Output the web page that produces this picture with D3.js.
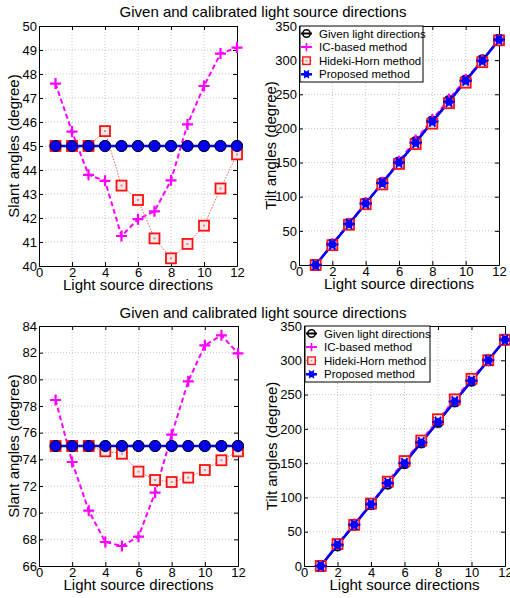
<!DOCTYPE html>
<html>
<head>
<meta charset="utf-8">
<script src="https://d3js.org/d3.v7.min.js"></script>
<style>
  body { margin: 0; background: #fff; }
</style>
</head>
<body>
<svg id="chart" width="510" height="598"></svg>
<script>
// light source index 1..12
const directions = d3.range(1, 13);

// slant angles, first setup (45 deg)
const slantGiven1 = [45, 45, 45, 45, 45, 45, 45, 45, 45, 45, 45, 45];
const slantIC1 = [47.6, 45.6, 43.8, 43.55, 41.25, 41.95, 42.28, 43.57, 45.9, 47.5, 48.85, 49.1];
const slantHH1 = [45, 45, 45, 45.62, 43.35, 42.75, 41.15, 40.32, 40.92, 41.68, 43.23, 44.65];
const slantProp1 = [45, 45, 45, 45, 45, 45, 45, 45, 45, 45, 45, 45];

// slant angles, second setup (75 deg)
const slantGiven2 = [75, 75, 75, 75, 75, 75, 75, 75, 75, 75, 75, 75];
const slantIC2 = [78.45, 73.8, 70.15, 67.8, 67.5, 68.2, 71.5, 75.85, 79.85, 82.55, 83.3, 81.95];
const slantHH2 = [75, 75, 75, 74.6, 74.42, 73.08, 72.45, 72.3, 72.63, 73.2, 73.93, 74.6];
const slantProp2 = [75, 75, 75, 75, 75, 75, 75, 75, 75, 75, 75, 75];

// tilt angles
const tiltGiven = [0, 30, 60, 90, 120, 150, 180, 210, 240, 270, 300, 330];
const tiltIC1 = [0, 31, 61, 91, 121, 152, 183, 213, 243, 272, 300, 330];
const tiltHH1 = [0, 29, 59, 89, 118, 148, 177, 207, 237, 267, 297, 329];
const tiltProp1 = [0, 30, 60, 90, 120, 150, 179, 210, 239, 270, 299, 330];
const tiltIC2 = [0, 32, 61, 91, 123, 153, 183, 213, 243, 273, 300, 330];
const tiltHH2 = [0, 32, 60, 91, 123, 153, 183, 214, 243, 273, 300, 330];
const tiltProp2 = [0, 31, 60, 90, 121, 150, 180, 210, 240, 270, 300, 330];

const xTicks = [0, 2, 4, 6, 8, 10, 12];
const slantTicks1 = [40, 41, 42, 43, 44, 45, 46, 47, 48, 49, 50];
const slantTicks2 = [66, 68, 70, 72, 74, 76, 78, 80, 82, 84];
const tiltTicks = [0, 50, 100, 150, 200, 250, 300, 350];

const legendNames = ["Given light directions", "IC-based method", "Hideki-Horn method", "Proposed method"];
const titleText = "Given and calibrated light source directions";

const FONT = "'Liberation Sans', Arial, Helvetica";
const svg = d3.select("#chart").style("font-family", FONT);

const styles = {
  given: { color: "#000", width: 2, dash: null },
  ic: { color: "#ff00ff", width: 2, dash: "5,3" },
  hh: { color: "#e06060", width: 1, dash: "1.5,1.5" },
  prop: { color: "#0000ff", width: 2.5, dash: null }
};

// marker shapes drawn around (0,0)
const drawMarker = (g, key, star) => {
  if (key === "given") {
    g.append("circle").attr("r", 5).attr("fill", "none").attr("stroke", "#000").attr("stroke-width", 2);
  } else if (key === "ic") {
    g.append("path").attr("d", "M-5.5,0H5.5M0,-5.5V5.5").attr("stroke", "#ff00ff").attr("stroke-width", 2.2);
  } else if (key === "hh") {
    g.append("rect").attr("x", -5).attr("y", -5).attr("width", 10).attr("height", 10)
      .attr("fill", "#f4e8e8").attr("stroke", "#ff1010").attr("stroke-width", 1.8);
    g.append("rect").attr("x", -1).attr("y", -1).attr("width", 2).attr("height", 2).attr("fill", "#d09090");
  } else if (star) {
    g.append("circle").attr("r", 4).attr("fill", "#0000ff");
    g.append("path").attr("d", "M-6,0H6M-3,-5.2L3,5.2M-3,5.2L3,-5.2")
      .attr("stroke", "#0000ff").attr("stroke-width", 2);
  } else {
    g.append("circle").attr("r", 5.5).attr("fill", "#0000ee").attr("stroke", "#000040").attr("stroke-width", 1);
  }
};

const panel = opts => {
  const g = svg.append("g");
  const x = d3.scaleLinear().domain([0, 12]).range([opts.left, opts.right]);
  const y = d3.scaleLinear().domain(opts.yDomain).range([opts.bottom, opts.top]);

  // dotted grid
  g.append("g").selectAll("line").data(xTicks.slice(1, -1)).join("line")
    .attr("x1", d => x(d)).attr("x2", d => x(d)).attr("y1", opts.top).attr("y2", opts.bottom)
    .attr("stroke", "#b8b8b8").attr("stroke-width", 0.8).attr("stroke-dasharray", "1,2");
  g.append("g").selectAll("line").data(opts.yTicks.slice(1, -1)).join("line")
    .attr("y1", d => y(d)).attr("y2", d => y(d)).attr("x1", opts.left).attr("x2", opts.right)
    .attr("stroke", "#b8b8b8").attr("stroke-width", 0.8).attr("stroke-dasharray", "1,2");

  // axes, MATLAB style ticks pointing in
  const axB = g.append("g").attr("transform", `translate(0,${opts.bottom})`)
    .call(d3.axisBottom(x).tickValues(xTicks).tickSizeInner(-4).tickSizeOuter(0).tickPadding(2));
  const axT = g.append("g").attr("transform", `translate(0,${opts.top})`)
    .call(d3.axisTop(x).tickValues(xTicks).tickSizeInner(-4).tickSizeOuter(0).tickFormat(""));
  const axL = g.append("g").attr("transform", `translate(${opts.left},0)`)
    .call(d3.axisLeft(y).tickValues(opts.yTicks).tickSizeInner(-4).tickSizeOuter(0).tickPadding(2));
  const axR = g.append("g").attr("transform", `translate(${opts.right},0)`)
    .call(d3.axisRight(y).tickValues(opts.yTicks).tickSizeInner(-4).tickSizeOuter(0).tickFormat(""));
  [axB, axT, axL, axR].forEach(a => {
    a.attr("font-family", null).attr("font-size", null);
    a.selectAll(".domain").attr("stroke", "#000").attr("stroke-width", 1);
    a.selectAll("text").style("font-family", FONT).attr("font-size", 13).attr("fill", "#000");
  });

  // series
  const line = d3.line().x((d, i) => x(directions[i])).y(d => y(d));
  const order = ["given", "ic", "hh", "prop"];
  order.forEach(key => {
    const vals = opts.series[key];
    const s = styles[key];
    g.append("path").datum(vals).attr("d", line)
      .attr("fill", "none").attr("stroke", s.color).attr("stroke-width", s.width)
      .attr("stroke-dasharray", s.dash);
  });
  order.forEach(key => {
    opts.series[key].forEach((v, i) => {
      const m = g.append("g").attr("transform", `translate(${x(directions[i])},${y(v)})`);
      drawMarker(m, key, opts.star);
    });
  });

  // labels
  g.append("text").attr("x", (opts.left + opts.right) / 2).attr("y", opts.bottom + 24)
    .attr("text-anchor", "middle").attr("font-size", 15).style("font-family", FONT).text("Light source directions");
  g.append("text").attr("transform", `translate(${opts.yLabelX},${(opts.top + opts.bottom) / 2}) rotate(-90)`)
    .attr("text-anchor", "middle").attr("font-size", 15).style("font-family", FONT).text(opts.yLabel);

  if (opts.legend) {
    const lg = g.append("g").attr("transform", `translate(${opts.left + 1},${opts.top})`);
    lg.append("rect").attr("width", opts.legend.w).attr("height", 56)
      .attr("fill", "#fff").attr("stroke", "#000").attr("stroke-width", 1);
    order.forEach((key, i) => {
      const row = lg.append("g").attr("transform", `translate(0,${7.5 + i * 13.6})`);
      const s = styles[key];
      row.append("line").attr("x1", 1).attr("x2", 12).attr("stroke", s.color)
        .attr("stroke-width", s.width).attr("stroke-dasharray", s.dash);
      const m = row.append("g").attr("transform", "translate(6.5,0) scale(0.75)");
      drawMarker(m, key, true);
      row.append("text").attr("x", 19).attr("y", 4).attr("font-size", 11.5)
        .style("font-family", FONT).text(legendNames[i]);
    });
  }
};

// titles
[17, 318].forEach(ty => {
  svg.append("text").attr("x", 263).attr("y", ty).attr("text-anchor", "middle")
    .attr("font-size", 15).style("font-family", FONT).text(titleText);
});

panel({ left: 39, right: 237, top: 26, bottom: 266, yDomain: [40, 50], yTicks: slantTicks1,
  yLabel: "Slant angles (degree)", yLabelX: 19, star: false,
  series: { given: slantGiven1, ic: slantIC1, hh: slantHH1, prop: slantProp1 } });

panel({ left: 299, right: 499, top: 26, bottom: 265, yDomain: [0, 350], yTicks: tiltTicks,
  yLabel: "Tilt angles (degree)", yLabelX: 276, star: true, legend: { w: 123 },
  series: { given: tiltGiven, ic: tiltIC1, hh: tiltHH1, prop: tiltProp1 } });

panel({ left: 39, right: 238, top: 326, bottom: 566, yDomain: [66, 84], yTicks: slantTicks2,
  yLabel: "Slant angles (degree)", yLabelX: 19, star: false,
  series: { given: slantGiven2, ic: slantIC2, hh: slantHH2, prop: slantProp2 } });

panel({ left: 304, right: 505, top: 326, bottom: 566, yDomain: [0, 350], yTicks: tiltTicks,
  yLabel: "Tilt angles (degree)", yLabelX: 277, star: true, legend: { w: 125 },
  series: { given: tiltGiven, ic: tiltIC2, hh: tiltHH2, prop: tiltProp2 } });
</script>
</body>
</html>
